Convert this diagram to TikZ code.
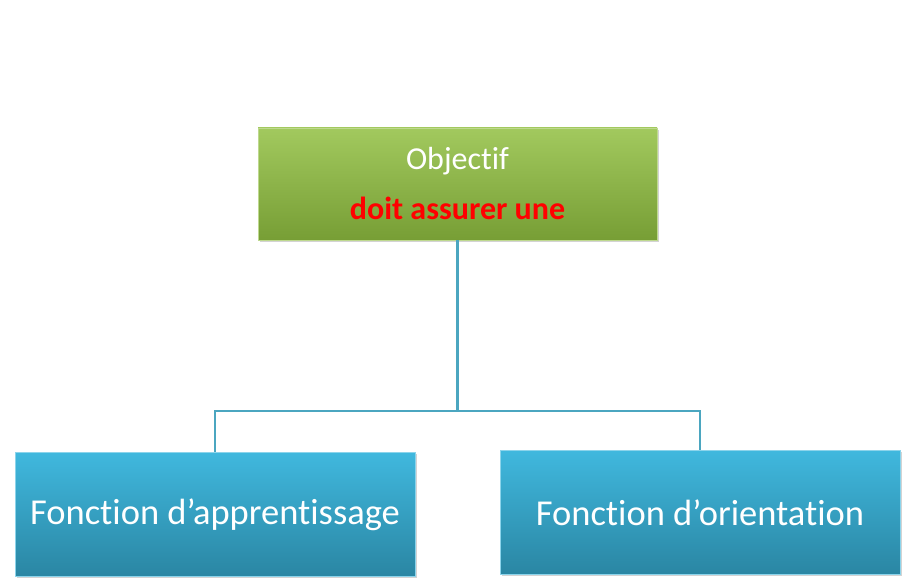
\documentclass[tikz,border=0pt]{standalone}
\usepackage{fontspec}
\setmainfont{Carlito}[Ligatures=NoCommon]
\usepackage{xcolor}
\usetikzlibrary{positioning,calc,shadows}

\definecolor{objtop}{HTML}{A2C95E}
\definecolor{objbot}{HTML}{779E35}
\definecolor{fcttop}{HTML}{40B8DE}
\definecolor{fctbot}{HTML}{2A86A3}
\definecolor{linkcol}{HTML}{4BA6C0}

\tikzset{
  objbox/.style={rectangle, minimum width=399pt, minimum height=112pt,
    top color=objtop, bottom color=objbot, draw=objtop!70!white, line width=0.6pt,
    drop shadow={shadow xshift=2pt,shadow yshift=-2pt,opacity=0.35},
    align=center, text=white, font=\fontsize{32}{50}\selectfont},
  fctbox/.style={rectangle, minimum width=400pt, minimum height=124pt,
    top color=fcttop, bottom color=fctbot, draw=fcttop!60!white, line width=0.8pt,
    drop shadow={shadow xshift=2pt,shadow yshift=-2pt,opacity=0.35},
    text=white, font=\fontsize{36.5}{42}\selectfont},
  link/.style={draw=linkcol, line width=2.6pt}
}

\begin{document}
\begin{tikzpicture}[x=1pt,y=1pt]
  \useasboundingbox (0,0) rectangle (907,583);
  % top box
  \node[objbox] (obj) at (457.5,399)
    {Objectif\\ {\bfseries\color{red}doit assurer une}};
  % bottom boxes
  \node[fctbox] (appr) at (215,68.5) {Fonction d’apprentissage};
  \node[fctbox] (orient) at (700,70.5) {Fonction d’orientation};
  % connectors
  \coordinate (split) at (457.5,172);
  \draw[link] (obj.south) -- (split) -| (appr.north);
  \draw[link] (split) -| (orient.north);
\end{tikzpicture}
\end{document}
